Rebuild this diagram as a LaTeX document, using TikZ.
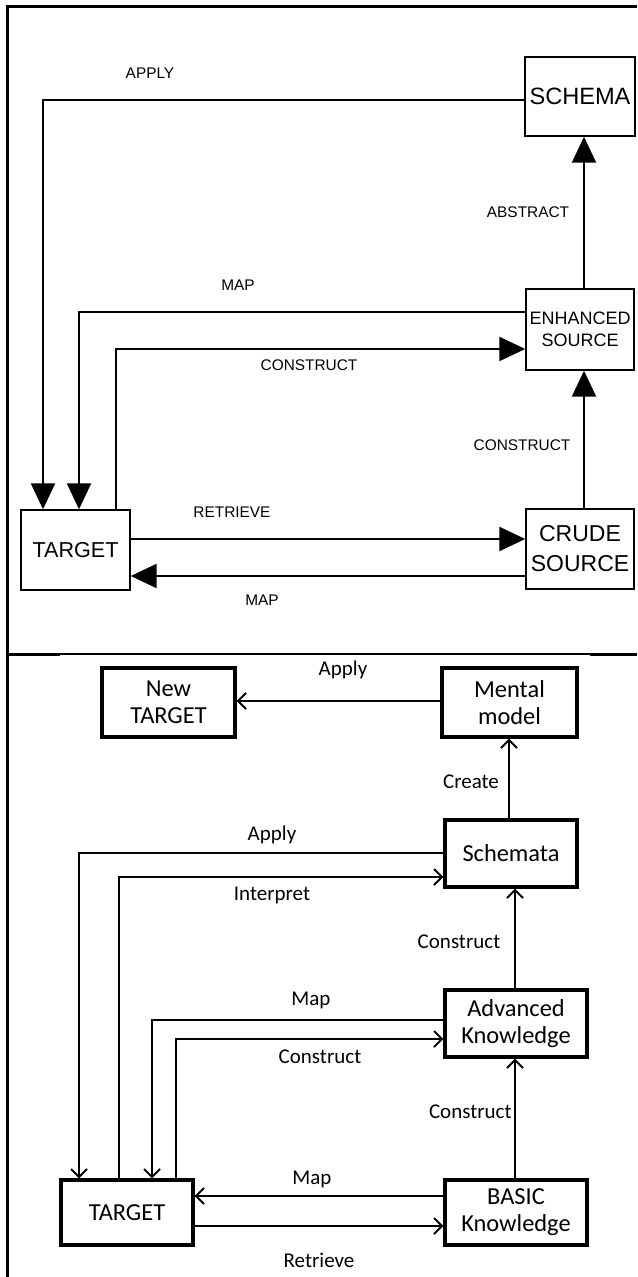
\documentclass[tikz,border=0pt]{standalone}
\usepackage{fontspec}
\setmainfont{Liberation Sans}
\newfontfamily\calibri{Carlito}
\usetikzlibrary{arrows.meta}

\begin{document}
\begin{tikzpicture}[x=0.5pt,y=-0.5pt,
  oldbox/.style={draw, line width=0.7pt, inner sep=0pt, align=center,
    font=\fontsize{11.5}{15}\selectfont},
  oldlbl/.style={inner sep=0pt, font=\fontsize{7.7}{9}\selectfont},
  oldarrow/.style={line width=1.1pt, -{Triangle[length=13pt,width=12pt]}},
  oldline/.style={line width=1.1pt},
  newbox/.style={draw, line width=1.6pt, inner sep=0pt, align=center,
    font=\calibri\fontsize{12.2}{13.5}\selectfont},
  newlbl/.style={inner sep=0pt, font=\calibri\fontsize{10.5}{12}\selectfont},
  newarrow/.style={line width=1pt, -{Straight Barb[length=4pt,width=8pt]}},
  frame/.style={line width=1.5pt}]

\useasboundingbox (0,0) rectangle (637,1277);

% ---- table rules ----
\draw[frame] (7,1277) -- (7,7) -- (637,7);
\draw[line width=1.5pt] (7,654) -- (60,654);
\draw[line width=1pt] (60,654) -- (590,654);
\draw[line width=1.5pt] (590,654) -- (637,654);

% ---- upper panel: boxes ----
\node[oldbox, minimum width=55pt, minimum height=39.5pt,
  font=\fontsize{11.8}{14}\selectfont] (schema) at (580,96.5) {SCHEMA};
\node[oldbox, minimum width=54pt, minimum height=40.5pt,
  font=\fontsize{9}{11}\selectfont] (enh) at (580,329.5) {ENHANCED\\SOURCE};
\node[oldbox, minimum width=54pt, minimum height=40pt] (crude) at (580,549) {CRUDE\\SOURCE};
\node[oldbox, minimum width=54.5pt, minimum height=40pt,
  font=\fontsize{10.8}{13}\selectfont] (tgt) at (75.5,550) {TARGET};

% columns and rows of the upper connectors
\coordinate (ca) at (43,0);
\coordinate (cm) at (79,0);
\coordinate (cc) at (116,0);
\coordinate (cv) at (584,0);
\coordinate (ra) at (0,100);
\coordinate (rm) at (0,312);
\coordinate (rc) at (0,349);
\coordinate (rr) at (0,539);
\coordinate (rp) at (0,576);

\draw[oldarrow] (schema.west |- ra) -- (ca |- ra) -- (ca |- tgt.north);
\draw[oldarrow] (enh.west |- rm) -- (cm |- rm) -- (cm |- tgt.north);
\draw[oldarrow] (cc |- tgt.north) -- (cc |- rc) -- (enh.west |- rc);
\draw[oldarrow] (cv |- enh.north) -- (cv |- schema.south);
\draw[oldarrow] (cv |- crude.north) -- (cv |- enh.south);
\draw[oldarrow] (tgt.east |- rr) -- (crude.west |- rr);
\draw[oldarrow] (crude.west |- rp) -- (tgt.east |- rp);

\node[oldlbl] (l1) at (150,73) {APPLY};
\node[oldlbl] (l2) at (528,212) {ABSTRACT};
\node[oldlbl] (l3) at (238,285) {MAP};
\node[oldlbl] (l4) at (309,365) {CONSTRUCT};
\node[oldlbl] (l5) at (522,445) {CONSTRUCT};
\node[oldlbl] (l6) at (232,512) {RETRIEVE};
\node[oldlbl] (l7) at (262,600) {MAP};

% ---- lower panel: boxes ----
\node[newbox, minimum width=66.5pt, minimum height=34.5pt] (newt) at (168.5,702.5) {New\\TARGET};
\node[newbox, minimum width=67.5pt, minimum height=34.5pt] (mental) at (509.5,702.5) {Mental\\model};
\node[newbox, minimum width=66pt, minimum height=33.5pt] (schemata) at (511,853.5) {Schemata};
\node[newbox, minimum width=71pt, minimum height=33.5pt] (adv) at (516,1023.5) {Advanced\\Knowledge};
\node[newbox, minimum width=71pt, minimum height=32.5pt] (basic) at (516,1212.5) {BASIC\\Knowledge};
\node[newbox, minimum width=66pt, minimum height=32.5pt] (tgtb) at (127,1212.5) {TARGET};

% columns and rows of the lower connectors
\coordinate (da) at (79,0);
\coordinate (di) at (119,0);
\coordinate (dm) at (152,0);
\coordinate (dc) at (176,0);
\coordinate (dcr) at (509,0);
\coordinate (du) at (515,0);
\coordinate (sa) at (0,701);
\coordinate (sb) at (0,853);
\coordinate (si) at (0,877);
\coordinate (sm) at (0,1020);
\coordinate (sc) at (0,1039);
\coordinate (sp) at (0,1196);
\coordinate (sr) at (0,1226);

\draw[newarrow] (mental.west |- sa) -- (newt.east |- sa);
\draw[newarrow] (dcr |- schemata.north) -- (dcr |- mental.south);
\draw[newarrow] (schemata.west |- sb) -- (da |- sb) -- (da |- tgtb.north);
\draw[newarrow] (di |- tgtb.north) -- (di |- si) -- (schemata.west |- si);
\draw[newarrow] (du |- adv.north) -- (du |- schemata.south);
\draw[newarrow] (adv.west |- sm) -- (dm |- sm) -- (dm |- tgtb.north);
\draw[newarrow] (dc |- tgtb.north) -- (dc |- sc) -- (adv.west |- sc);
\draw[newarrow] (du |- basic.north) -- (du |- adv.south);
\draw[newarrow] (basic.west |- sp) -- (tgtb.east |- sp);
\draw[newarrow] (tgtb.east |- sr) -- (basic.west |- sr);

\node[newlbl] (m1) at (343,670) {Apply};
\node[newlbl] (m2) at (471,782) {Create};
\node[newlbl] (m3) at (272,835) {Apply};
\node[newlbl] (m4) at (272,895) {Interpret};
\node[newlbl] (m5) at (459,942) {Construct};
\node[newlbl] (m6) at (311,1000) {Map};
\node[newlbl] (m7) at (320,1057) {Construct};
\node[newlbl, anchor=east] (m8) at (512,1112) {Construct};
\node[newlbl] (m9) at (312,1179) {Map};
\node[newlbl] (m10) at (319,1260) {Retrieve};
\end{tikzpicture}
\end{document}
